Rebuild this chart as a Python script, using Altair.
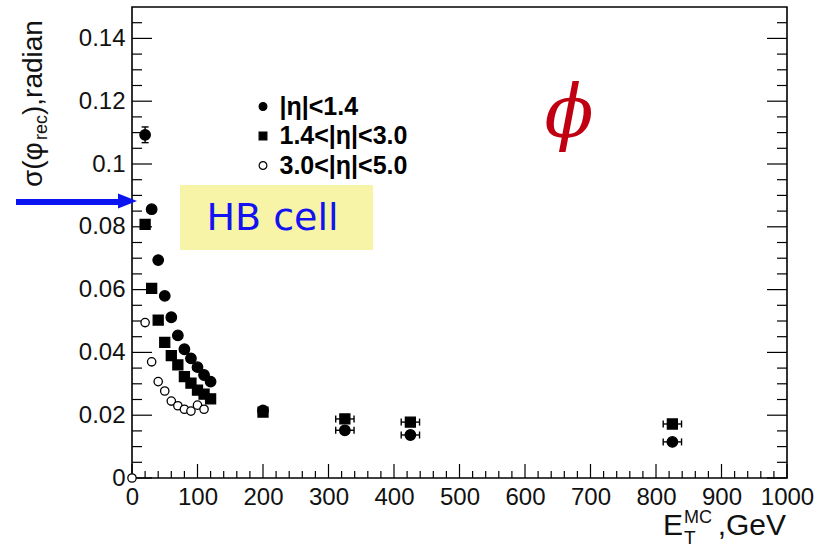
import altair as alt
import pandas as pd

# Azimuthal resolution of reconstructed jets vs. generated transverse energy
series_labels = ["|η|<1.4", "1.4<|η|<3.0", "3.0<|η|<5.0"]

# |eta| < 1.4
et_barrel = [20, 30, 40, 50, 60, 70, 80, 90, 100, 110, 120, 200, 325, 425, 825]
sig_barrel = [0.1093, 0.0856, 0.0694, 0.0580, 0.0512, 0.0454, 0.0410, 0.0381,
              0.0353, 0.0328, 0.0307, 0.0215, 0.0152, 0.0137, 0.0115]
# 1.4 < |eta| < 3.0
et_endcap = [20, 30, 40, 50, 60, 70, 80, 90, 100, 110, 120, 200, 325, 425, 825]
sig_endcap = [0.0808, 0.0604, 0.0503, 0.0432, 0.0390, 0.0360, 0.0323, 0.0302,
              0.0280, 0.0267, 0.0252, 0.0210, 0.0188, 0.0178, 0.0172]
# 3.0 < |eta| < 5.0
et_forward = [0, 20, 30, 40, 50, 60, 70, 80, 90, 100, 110]
sig_forward = [0.0, 0.0495, 0.0370, 0.0307, 0.0277, 0.0245, 0.0230, 0.0219,
               0.0213, 0.0232, 0.0219]

# statistical error on the lowest-ET barrel point
yerr_et = [20]
yerr_val = [0.1093]
yerr_size = [0.0025]

# ET bin half-widths of the high-ET points (both barrel and endcap)
xerr_et = [325, 425, 825, 325, 425, 825]
xerr_val = [0.0152, 0.0137, 0.0115, 0.0188, 0.0178, 0.0172]
xerr_size = [14, 14, 14, 14, 14, 14]

# axis ticks
x_label_values = [0, 100, 200, 300, 400, 500, 600, 700, 800, 900, 1000]
x_minor_values = [v for v in range(0, 1001, 20) if v % 100 != 0]
y_label_values = [0, 0.02, 0.04, 0.06, 0.08, 0.1, 0.12, 0.14]
y_minor_values = [0.005, 0.01, 0.015, 0.025, 0.03, 0.035, 0.045, 0.05, 0.055,
                  0.065, 0.07, 0.075, 0.085, 0.09, 0.095, 0.105, 0.11, 0.115,
                  0.125, 0.13, 0.135, 0.145]

W, H = 655, 471
FONT = "Liberation Sans"

series_data = [
    pd.DataFrame({"et": et_barrel, "sigma": sig_barrel, "series": series_labels[0]}),
    pd.DataFrame({"et": et_endcap, "sigma": sig_endcap, "series": series_labels[1]}),
    pd.DataFrame({"et": et_forward, "sigma": sig_forward, "series": series_labels[2]}),
]
marker_sizes = [110, 100, 70]

yerr = pd.DataFrame({"et": yerr_et, "lo": [v - e for v, e in zip(yerr_val, yerr_size)],
                     "hi": [v + e for v, e in zip(yerr_val, yerr_size)]})
xerr = pd.DataFrame({"lo": [x - e for x, e in zip(xerr_et, xerr_size)],
                     "hi": [x + e for x, e in zip(xerr_et, xerr_size)],
                     "sigma": xerr_val})

xscale = alt.Scale(domain=[0, 1000], nice=False, zero=False)
yscale = alt.Scale(domain=[0, 0.15], nice=False, zero=False)
xaxis = alt.Axis(values=x_label_values, format="d", title=None, grid=False, ticks=False,
                 domain=False, labelFont=FONT, labelFontSize=24, labelColor="#111111",
                 labelPadding=7, labelFlush=False, labelOverlap=False)
yaxis = alt.Axis(values=y_label_values, format="~g", title=None, grid=False, ticks=False,
                 domain=False, labelFont=FONT, labelFontSize=24, labelColor="#111111",
                 labelPadding=7, labelFlush=False, labelOverlap=False)


def X(field):
    return alt.X(field, type="quantitative", scale=xscale, axis=xaxis)


def Y(field):
    return alt.Y(field, type="quantitative", scale=yscale, axis=yaxis)


legend = alt.Legend(title=None, orient="none", legendX=118.5, legendY=87)
shape_scale = alt.Scale(domain=series_labels, range=["circle", "square", "circle"])
fill_scale = alt.Scale(domain=series_labels, range=["black", "black", "white"])
stroke_scale = alt.Scale(domain=series_labels, range=["black", "black", "black"])

marker_layers = [
    alt.Chart(df).mark_point(strokeWidth=1.3, opacity=1, size=s).encode(
        x=X("et"),
        y=Y("sigma"),
        shape=alt.Shape("series:N", scale=shape_scale, legend=legend),
        fill=alt.Fill("series:N", scale=fill_scale, legend=legend),
        stroke=alt.Stroke("series:N", scale=stroke_scale, legend=legend),
    )
    for df, s in zip(series_data, marker_sizes)
]

# error bars with end caps
ybar = alt.Chart(yerr).mark_rule(color="black", strokeWidth=1.4).encode(
    x=X("et"), y=Y("lo"), y2="hi")
ycap_lo = alt.Chart(yerr).mark_rule(color="black", strokeWidth=1.4, xOffset=-3.5,
                                    x2Offset=3.5).encode(x=X("et"), x2="et", y=Y("lo"))
ycap_hi = alt.Chart(yerr).mark_rule(color="black", strokeWidth=1.4, xOffset=-3.5,
                                    x2Offset=3.5).encode(x=X("et"), x2="et", y=Y("hi"))
xbar = alt.Chart(xerr).mark_rule(color="black", strokeWidth=1.4).encode(
    x=X("lo"), x2="hi", y=Y("sigma"))
xcap_lo = alt.Chart(xerr).mark_rule(color="black", strokeWidth=1.4, yOffset=-3.5,
                                    y2Offset=3.5).encode(x=X("lo"), y=Y("sigma"), y2="sigma")
xcap_hi = alt.Chart(xerr).mark_rule(color="black", strokeWidth=1.4, yOffset=-3.5,
                                    y2Offset=3.5).encode(x=X("hi"), y=Y("sigma"), y2="sigma")


# inward-pointing frame ticks
def xticks(values, length):
    return alt.Chart(pd.DataFrame({"t": values})).mark_rule(color="black", strokeWidth=1.2).encode(
        x=X("t"), y=alt.value(H), y2=alt.value(H - length))


def yticks(values, length, right=False):
    x0 = W if right else 0
    x1 = W - length if right else length
    return alt.Chart(pd.DataFrame({"t": values})).mark_rule(color="black", strokeWidth=1.2).encode(
        y=Y("t"), x=alt.value(x0), x2=alt.value(x1))


ticks = [xticks(x_label_values, 14), xticks(x_minor_values, 7),
         yticks(y_label_values, 20), yticks(y_minor_values, 10),
         yticks(y_label_values, 20, True), yticks(y_minor_values, 10, True)]

# "HB cell" note with arrow pointing at the axis
hb_box = alt.Chart().mark_rect(color="#f7f4a8").encode(
    x=alt.value(48), x2=alt.value(241), y=alt.value(178), y2=alt.value(243))
hb_text = alt.Chart().mark_text(text="HB cell", font="DejaVu Sans", fontSize=38,
                                color="#1212f2", align="center", baseline="alphabetic").encode(
    x=alt.value(140.5), y=alt.value(223))
arrow_shaft = alt.Chart().mark_rule(color="#0a14f0", strokeWidth=6).encode(
    x=alt.value(-116), x2=alt.value(-14), y=alt.value(195))
arrow_head = alt.Chart().mark_point(shape="M-1,-0.8L1,0L-1,0.8Z", filled=True, size=361,
                                    color="#0a14f0", opacity=1).encode(
    x=alt.value(-4.5), y=alt.value(194))

phi = alt.Chart().mark_text(text="ϕ", font="DejaVu Serif", fontStyle="italic", fontSize=72,
                            color="#c00012", align="center", baseline="alphabetic").encode(
    x=alt.value(437), y=alt.value(130))


# axis titles built from pieces for sub/superscripts
def label(text, x, y, size, angle=0, align="left"):
    return alt.Chart().mark_text(text=text, font=FONT, fontSize=size, color="#111111",
                                 align=align, baseline="alphabetic", angle=angle).encode(
        x=alt.value(x), y=alt.value(y))


ytitle = [label("σ(φ", -90, 180, 28, 270),
          label("rec", -85, 133, 18, 270),
          label("),radian", -90, 108, 28, 270)]
xtitle = [label("E", 531, 528, 30),
          label("T", 552, 537, 19),
          label("MC", 552, 516, 18),
          label(",GeV", 654, 528, 30, align="right")]

chart = alt.layer(
    hb_box, hb_text, *ticks, ybar, ycap_lo, ycap_hi, xbar, xcap_lo, xcap_hi, *marker_layers,
    arrow_shaft, arrow_head, phi, *ytitle, *xtitle,
).properties(
    width=W, height=H,
    autosize=alt.AutoSizeParams(type="none"),
    padding={"left": 132, "top": 7, "right": 34, "bottom": 69},
).configure_view(
    stroke="black", strokeWidth=1.6
).configure_legend(
    symbolSize=60, symbolStrokeWidth=1.2,
    labelFont=FONT, labelFontSize=25, labelFontWeight="bold", labelColor="black",
    rowPadding=3.5, labelOffset=4, padding=0,
)

chart.save("out.html", embed_options={"renderer": "svg", "actions": False})
